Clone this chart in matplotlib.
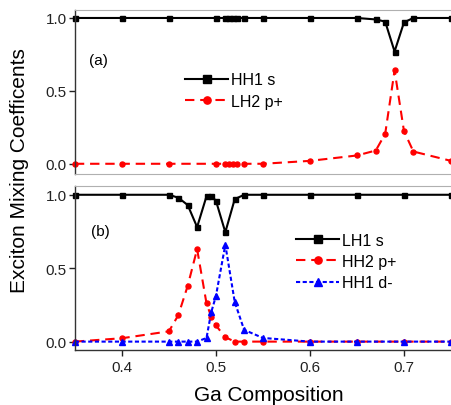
import matplotlib
matplotlib.use("Agg")
import matplotlib.pyplot as plt

plt.rcParams['font.family'] = ['Liberation Sans', 'DejaVu Sans']

# (a) HH1 s / LH2 p+ mixing versus Ga composition
x_a = [0.35, 0.40, 0.45, 0.50, 0.51, 0.514, 0.518, 0.522, 0.53, 0.55,
       0.60, 0.65, 0.67, 0.68, 0.69, 0.70, 0.71, 0.75]
hh1_s = [1.0, 1.0, 1.0, 1.0, 1.0, 1.0, 1.0, 1.0, 1.0, 1.0,
         1.0, 1.0, 0.99, 0.975, 0.77, 0.97, 1.0, 1.0]
lh2_p = [0.0, 0.0, 0.0, 0.0, 0.0, 0.0, 0.0, 0.0, 0.0, 0.0,
         0.02, 0.057, 0.091, 0.205, 0.64, 0.224, 0.084, 0.02]

# (b) LH1 s / HH2 p+ / HH1 d- mixing versus Ga composition
x_b = [0.35, 0.40, 0.45, 0.46, 0.47, 0.48, 0.49, 0.495, 0.50, 0.51,
       0.52, 0.53, 0.55, 0.60, 0.65, 0.70, 0.75]
lh1_s = [1.0, 1.0, 1.0, 0.98, 0.93, 0.78, 0.99, 0.99, 0.96, 0.745,
         0.97, 1.0, 1.0, 1.0, 1.0, 1.0, 1.0]
hh2_p = [0.0, 0.023, 0.07, 0.18, 0.38, 0.63, 0.26, 0.17, 0.11, 0.03,
         0.0, 0.0, 0.0, 0.0, 0.0, 0.0, 0.0]
hh1_d = [0.0, 0.0, 0.0, 0.0, 0.0, 0.0, 0.025, 0.2, 0.31, 0.66,
         0.27, 0.08, 0.025, 0.0, 0.0, 0.0, 0.0]

x_ticks = [0.4, 0.5, 0.6, 0.7]
y_ticks = [0.0, 0.5, 1.0]

fig = plt.figure(figsize=(4.51, 4.06), dpi=100)
ax_a = fig.add_axes([0.166, 0.569, 0.834, 0.404])
ax_b = fig.add_axes([0.166, 0.1355, 0.834, 0.404])

LW = 1.5
black = dict(color='black', lw=LW, marker='s', ms=3.6, ls='-')
red = dict(color='#ff0000', lw=LW, marker='o', ms=3.6, ls=(0, (4.5, 2.8)))
blue = dict(color='#0000ff', lw=LW, marker='^', ms=4.3, ls=(0, (2, 1.2)))

ax_a.plot(x_a, hh1_s, label='HH1 s', **black)
ax_a.plot(x_a, lh2_p, label='LH2 p+', **red)

ax_b.plot(x_b, lh1_s, label='LH1 s', **black)
ax_b.plot(x_b, hh2_p, label='HH2 p+', **red)
ax_b.plot(x_b, hh1_d, label='HH1 d-', **blue)

for ax in (ax_a, ax_b):
    ax.set_xlim(0.35, 0.75)
    ax.set_yticks(y_ticks)
    ax.set_yticklabels(['0.0', '0.5', '1.0'])
    ax.tick_params(axis='y', direction='out', length=4, width=1,
                   labelsize=11, pad=2, colors='#222222')
    ax.spines['right'].set_visible(False)
    ax.spines['top'].set_color('#b0b0b0')
    ax.spines['left'].set_color('#333333')
    ax.spines['left'].set_linewidth(1.0)
    for line in ax.get_lines():
        line.set_clip_on(False)

ax_a.set_ylim(-0.07, 1.055)
ax_b.set_ylim(-0.057, 1.06)

ax_a.spines['bottom'].set_color('#b0b0b0')
ax_a.tick_params(axis='x', bottom=False, labelbottom=False)

ax_b.spines['bottom'].set_color('#333333')
ax_b.spines['bottom'].set_linewidth(1.0)
ax_b.set_xticks(x_ticks)
ax_b.set_xticklabels(['0.4', '0.5', '0.6', '0.7'])
ax_b.tick_params(axis='x', direction='out', length=4, width=1,
                 labelsize=11, pad=3, colors='#222222')

fig.text(0.596, 0.0125, 'Ga Composition', ha='center', va='baseline',
         fontsize=15)
fig.text(0.043, 0.579, 'Exciton Mixing Coefficents', rotation=90,
         ha='center', va='center', fontsize=15)

ax_a.text(0.037, 0.695, '(a)', transform=ax_a.transAxes, fontsize=11,
          ha='left', va='center')
ax_b.text(0.044, 0.727, '(b)', transform=ax_b.transAxes, fontsize=11,
          ha='left', va='center')

leg_kw = dict(frameon=False, fontsize=11.5, handlelength=2.7,
              handletextpad=0.15, borderpad=0, borderaxespad=0,
              labelspacing=0.4, markerscale=1.45, loc='upper left')
ax_a.legend(bbox_to_anchor=(0.293, 0.62), **leg_kw)
ax_b.legend(bbox_to_anchor=(0.588, 0.716), **leg_kw)

fig.savefig('out.png', dpi=100)
